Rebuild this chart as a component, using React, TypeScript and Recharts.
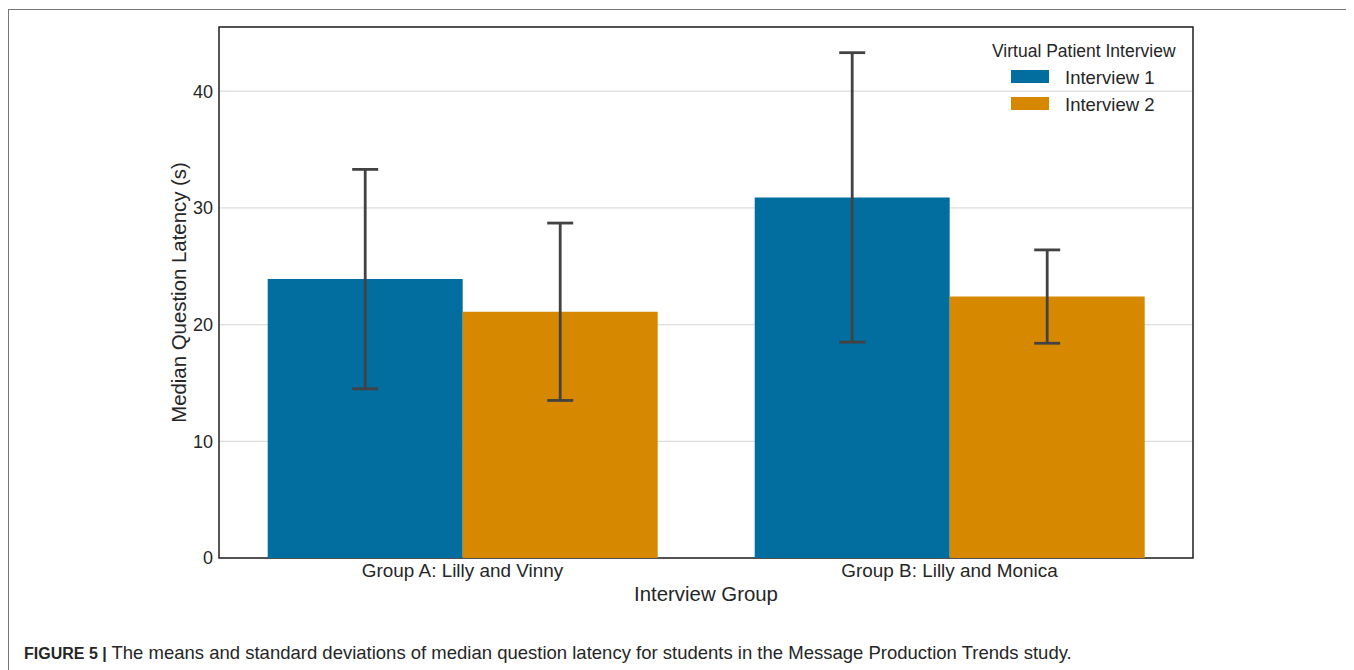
import React from "react";
import {
  BarChart,
  Bar,
  XAxis,
  YAxis,
  CartesianGrid,
  ErrorBar,
  Legend,
  ReferenceArea,
} from "recharts";

const groups = ["Group A: Lilly and Vinny", "Group B: Lilly and Monica"];
const interview1 = [23.9, 30.9];
const interview2 = [21.1, 22.4];
const sd1 = [9.4, 12.4];
const sd2 = [7.6, 4.0];
const yTicks = [0, 10, 20, 30, 40];

const SERIES = [
  { key: "interview1", err: "sd1", name: "Interview 1", color: "#026d9f" },
  { key: "interview2", err: "sd2", name: "Interview 2", color: "#d58800" },
];

const FONT = '"Liberation Sans", Arial, Helvetica, sans-serif';
const TEXT = "#262626";

function LegendBox() {
  return (
    <div style={{ position: "relative", width: 220, height: 90, fontFamily: FONT, color: TEXT }}>
      <div style={{ position: "absolute", left: 2, top: 0, fontSize: 17.5, lineHeight: "26px", whiteSpace: "nowrap" }}>
        Virtual Patient Interview
      </div>
      {SERIES.map((s, i) => (
        <React.Fragment key={s.key}>
          <div
            style={{
              position: "absolute",
              left: 21,
              top: 32 + i * 27,
              width: 38,
              height: 13,
              background: s.color,
            }}
          />
          <div
            style={{
              position: "absolute",
              left: 75,
              top: 26 + i * 27,
              fontSize: 18.5,
              lineHeight: "27px",
              whiteSpace: "nowrap",
            }}
          >
            {s.name}
          </div>
        </React.Fragment>
      ))}
    </div>
  );
}

export default function App() {
  const data = groups.map((g, i) => ({
    group: g,
    interview1: interview1[i],
    interview2: interview2[i],
    sd1: sd1[i],
    sd2: sd2[i],
  }));

  return (
    <div
      style={{
        position: "relative",
        width: 1342,
        height: 662,
        marginTop: 1,
        border: "1px solid #777",
        boxSizing: "border-box",
        fontFamily: FONT,
        background: "#fff",
      }}
    >
      <div style={{ position: "absolute", left: 0, top: 0 }}>
        <BarChart
          width={1340}
          height={640}
          data={data}
          margin={{ top: 17, right: 156, left: 130, bottom: 20 }}
          barCategoryGap="10%"
          barGap={0}
        >
          <CartesianGrid vertical={false} stroke="#dcdcdc" strokeWidth={1.2} />
          <XAxis
            dataKey="group"
            height={72}
            axisLine={false}
            tickLine={false}
            tickSize={6}
            tickMargin={0}
            tick={{ fontSize: 18.9, fill: TEXT, fontFamily: FONT }}
            label={{ value: "Interview Group", position: "center", fontSize: 20.4, fill: TEXT, fontFamily: FONT }}
          />
          <YAxis
            type="number"
            domain={[0, 45.5]}
            ticks={yTicks}
            width={80}
            axisLine={false}
            tickLine={false}
            tickSize={6}
            tickMargin={0}
            tick={{ fontSize: 18, fill: TEXT, fontFamily: FONT }}
            label={{
              value: "Median Question Latency (s)",
              angle: -90,
              position: "center",
              fontSize: 20.4,
              fill: TEXT,
              fontFamily: FONT,
            }}
          />
          <Legend
            layout="vertical"
            align="center"
            verticalAlign="middle"
            content={() => <LegendBox />}
            wrapperStyle={{ left: 981, top: 28, width: 220, height: 90 }}
          />
          {SERIES.map((s) => (
            <Bar key={s.key} dataKey={s.key} name={s.name} fill={s.color} isAnimationActive={false}>
              <ErrorBar dataKey={s.err} direction="y" width={13} stroke="#424242" strokeWidth={2.8} />
            </Bar>
          ))}
          <ReferenceArea
            y1={0}
            y2={45.5}
            fill="none"
            fillOpacity={0}
            stroke="#1f1f1f"
            strokeWidth={1.5}
            ifOverflow="visible"
          />
        </BarChart>
      </div>
      <div
        style={{
          position: "absolute",
          left: 15,
          top: 632,
          fontSize: 18.5,
          lineHeight: "22px",
          color: TEXT,
          whiteSpace: "nowrap",
        }}
      >
        <b style={{ fontSize: 16 }}>FIGURE 5 |</b> The means and standard deviations of median question latency for
        students in the Message Production Trends study.
      </div>
    </div>
  );
}
